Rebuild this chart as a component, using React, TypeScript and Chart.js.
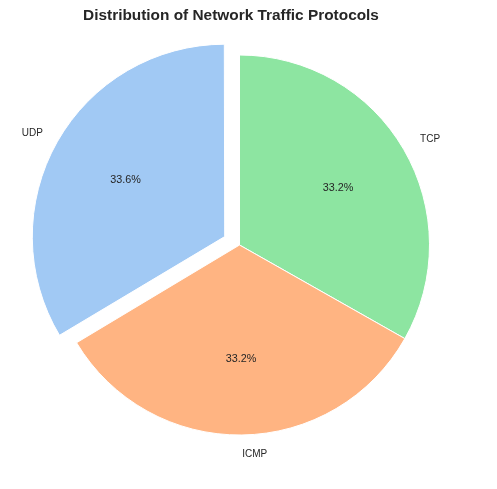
import React, { useEffect, useRef } from "react";
import { Chart, registerables } from "chart.js";

Chart.register(...registerables);

const titleText = "Distribution of Network Traffic Protocols";
const protocols = ["TCP", "ICMP", "UDP"];
const shares = [33.2, 33.2, 33.6];
const colors = ["#8de5a1", "#ffb482", "#a1c9f4"];
const offsets = [0, 0, 68];

const FONT = "'Liberation Sans', Arial, Helvetica, sans-serif";
const TEXT_COLOR = "#262626";

const pieLabels = {
  id: "pieLabels",
  afterDatasetsDraw(chart: any) {
    const ctx = chart.ctx;
    const meta = chart.getDatasetMeta(0);
    const data = chart.data.datasets[0].data as number[];
    const total = data.reduce((a: number, b: number) => a + b, 0);
    ctx.save();
    meta.data.forEach((arc: any, i: number) => {
      const { x, y, startAngle, endAngle, outerRadius } = arc.getProps(
        ["x", "y", "startAngle", "endAngle", "outerRadius"],
        true
      );
      const mid = (startAngle + endAngle) / 2;
      const t = (arc.options.offset || 0) / 4;
      const cx = x + Math.cos(mid) * t;
      const cy = y + Math.sin(mid) * t;
      const lx = cx + Math.cos(mid) * outerRadius * 1.1;
      const ly = cy + Math.sin(mid) * outerRadius * 1.1;
      ctx.fillStyle = TEXT_COLOR;
      ctx.font = `10px ${FONT}`;
      ctx.textBaseline = "middle";
      ctx.textAlign = Math.cos(mid) > 0 ? "left" : "right";
      ctx.fillText(String(chart.data.labels[i]), lx, ly);
      const px = cx + Math.cos(mid) * outerRadius * 0.6;
      const py = cy + Math.sin(mid) * outerRadius * 0.6;
      ctx.font = `10.8px ${FONT}`;
      ctx.textAlign = "center";
      ctx.fillText(((data[i] / total) * 100).toFixed(1) + "%", px, py);
    });
    ctx.font = `bold 15.4px ${FONT}`;
    ctx.textAlign = "center";
    ctx.textBaseline = "middle";
    ctx.fillStyle = TEXT_COLOR;
    ctx.fillText(titleText, 231, 16);
    ctx.restore();
  },
};

export default function App() {
  const canvasRef = useRef<HTMLCanvasElement | null>(null);

  useEffect(() => {
    if (!canvasRef.current) return;
    const chart = new Chart(canvasRef.current, {
      type: "pie",
      data: {
        labels: protocols,
        datasets: [
          {
            data: shares,
            backgroundColor: colors,
            borderColor: "#ffffff",
            borderWidth: 1,
            offset: offsets,
            radius: 190,
          } as any,
        ],
      },
      options: {
        animation: false,
        responsive: true,
        maintainAspectRatio: false,
        rotation: 0,
        layout: { padding: { left: 0, right: 18, top: 1, bottom: 0 } },
        plugins: {
          legend: { display: false },
          title: { display: false },
          tooltip: { enabled: false },
        },
      },
      plugins: [pieLabels],
    });
    return () => chart.destroy();
  }, []);

  return (
    <div
      style={{
        position: "fixed",
        left: 0,
        top: 0,
        width: 497,
        height: 489,
        background: "#ffffff",
      }}
    >
      <canvas ref={canvasRef} />
    </div>
  );
}
